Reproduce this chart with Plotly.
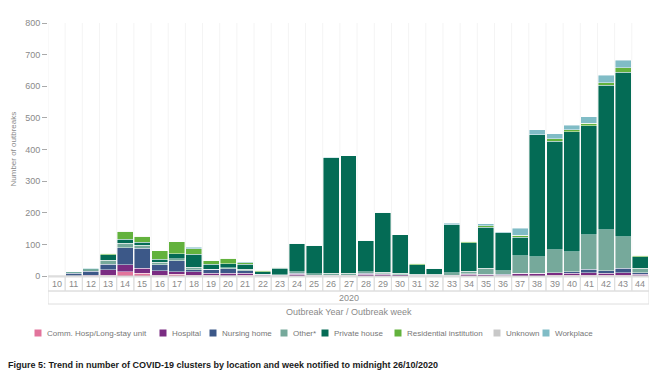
import plotly.graph_objects as go

weeks = [str(w) for w in range(10, 45)]

comm_hosp = [0, 0, 0, 2, 14, 8, 3, 6, 3, 2, 1, 2, 0, 0, 0, 0, 0, 0, 0, 0, 0, 0, 0, 0, 0, 0, 0, 0, 0, 2, 2, 3, 2, 3, 1]
hospital = [0, 1, 3, 18, 21, 16, 14, 7, 10, 6, 7, 7, 3, 2, 5, 3, 3, 3, 5, 5, 4, 2, 2, 3, 5, 4, 3, 9, 8, 9, 6, 7, 6, 7, 5]
nursing_home = [2, 8, 12, 17, 55, 63, 18, 35, 7, 13, 15, 8, 2, 0, 3, 0, 0, 0, 3, 2, 0, 0, 0, 0, 2, 2, 2, 0, 0, 0, 5, 11, 8, 14, 5]
other = [0, 2, 5, 13, 13, 10, 8, 7, 8, 0, 3, 5, 0, 2, 5, 4, 6, 5, 5, 5, 4, 4, 3, 7, 8, 18, 12, 55, 53, 72, 63, 109, 131, 100, 13]
private_house = [1, 2, 3, 17, 14, 10, 10, 16, 40, 16, 12, 15, 8, 20, 90, 90, 365, 372, 100, 190, 122, 30, 20, 152, 90, 130, 120, 58, 386, 343, 380, 345, 456, 520, 37]
residential = [0, 0, 0, 5, 25, 18, 27, 38, 18, 11, 18, 5, 5, 3, 0, 0, 0, 0, 0, 0, 0, 4, 0, 0, 5, 5, 0, 7, 0, 8, 7, 8, 8, 15, 5]
unknown = [0] * 35
workplace = [0, 0, 2, 0, 0, 0, 0, 0, 5, 0, 0, 3, 0, 0, 0, 0, 2, 0, 0, 0, 0, 0, 0, 5, 0, 6, 3, 22, 15, 16, 14, 21, 24, 24, 0]

series = [
    ("Comm. Hosp/Long-stay unit", comm_hosp, "#e2749c"),
    ("Hospital", hospital, "#7a2c82"),
    ("Nursing home", nursing_home, "#3c5888"),
    ("Other*", other, "#76a99b"),
    ("Private house", private_house, "#046b55"),
    ("Residential institution", residential, "#63b23d"),
    ("Unknown", unknown, "#c8c8c8"),
    ("Workplace", workplace, "#80bcc6"),
]
y_ticks = [0, 100, 200, 300, 400, 500, 600, 700, 800]

W, H = 650, 387
ML, MR, MT, MB = 48, 1, 23, 111
PW, PH = W - ML - MR, H - MT - MB


def px_x(px):
    return (px - ML) / PW


def px_y(py):
    return (H - MB - py) / PH


font_main = "Liberation Sans, Arial, sans-serif"
grey = "#8a8a8a"

fig = go.Figure()
for name, vals, col in series:
    fig.add_trace(go.Bar(
        x=weeks, y=vals, name=name, showlegend=False,
        marker=dict(color=col, line=dict(color="rgba(255,255,255,0.55)", width=0.8)),
    ))

shapes = []
n = len(weeks)
for i in range(n):
    shapes.append(dict(type="rect", xref="x", yref="paper", x0=i - 0.5, x1=i + 0.5,
                       y0=px_y(291), y1=px_y(277), line=dict(color="#dedede", width=1),
                       fillcolor="rgba(0,0,0,0)", layer="below"))
    shapes.append(dict(type="line", xref="x", yref="paper", x0=i - 0.5, x1=i - 0.5,
                       y0=0, y1=1, line=dict(color="#f4f4f4", width=1), layer="below"))
shapes.append(dict(type="rect", xref="x", yref="paper", x0=-0.5, x1=n - 0.5,
                   y0=px_y(304), y1=px_y(291), line=dict(color="#dedede", width=1),
                   fillcolor="rgba(0,0,0,0)", layer="below"))
shapes.append(dict(type="line", xref="x", yref="paper", x0=-0.5, x1=n - 0.5,
                   y0=0, y1=0, line=dict(color="#cccccc", width=1)))

annotations = [
    dict(text="2020", xref="paper", yref="paper", x=0.5, y=px_y(297.5), showarrow=False,
         font=dict(size=9, color=grey, family=font_main), xanchor="center", yanchor="middle"),
    dict(text="Outbreak Year / Outbreak week", xref="paper", yref="paper", x=0.5, y=px_y(312),
         showarrow=False, font=dict(size=9, color=grey, family=font_main),
         xanchor="center", yanchor="middle"),
    dict(text="Number of outbreaks", xref="paper", yref="paper", x=px_x(13), y=0.5,
         textangle=-90, showarrow=False, font=dict(size=8, color=grey, family=font_main),
         xanchor="center", yanchor="middle"),
    dict(text="<b>Figure 5: Trend in number of COVID-19 clusters by location and week notified to midnight 26/10/2020</b>",
         xref="paper", yref="paper", x=px_x(6), y=px_y(365), showarrow=False,
         font=dict(size=9, color="#1a1a1a", family=font_main), xanchor="left", yanchor="middle"),
]

for i, w in enumerate(weeks):
    annotations.append(dict(text=w, xref="x", yref="paper", x=i, y=px_y(284), showarrow=False,
                            font=dict(size=9, color=grey, family=font_main),
                            xanchor="center", yanchor="middle"))

# manual legend (square swatches + labels)
legend_px = [38, 163, 213, 284, 325, 398, 497, 546]
ly = 333
for (name, _, col), sx in zip(series, legend_px):
    shapes.append(dict(type="rect", xref="paper", yref="paper",
                       x0=px_x(sx - 3.5), x1=px_x(sx + 3.5),
                       y0=px_y(ly + 3.5), y1=px_y(ly - 3.5),
                       fillcolor=col, line=dict(width=0)))
    annotations.append(dict(text=name, xref="paper", yref="paper", x=px_x(sx + 7),
                            y=px_y(ly), showarrow=False, xanchor="left", yanchor="middle",
                            font=dict(size=8, color="#777777", family=font_main)))

fig.update_layout(
    width=W, height=H,
    margin=dict(l=ML, r=MR, t=MT, b=MB, autoexpand=False),
    barmode="stack", bargap=0.07,
    paper_bgcolor="white", plot_bgcolor="white",
    font=dict(family=font_main, size=9, color=grey),
    showlegend=False,
    shapes=shapes, annotations=annotations,
    xaxis=dict(type="category", showticklabels=False, showgrid=False, zeroline=False,
               showline=False, ticks="", range=[-0.5, n - 0.5], automargin=False),
    yaxis=dict(range=[0, 800], tickvals=y_ticks, ticks="outside", ticklen=5,
               tickcolor="#aaaaaa", showgrid=False, zeroline=False, showline=False,
               tickfont=dict(size=9, color=grey), automargin=False),
)

fig.write_html("out.html", config={"displayModeBar": False},
               post_script="document.body.style.margin='0';document.body.style.padding='0';")
